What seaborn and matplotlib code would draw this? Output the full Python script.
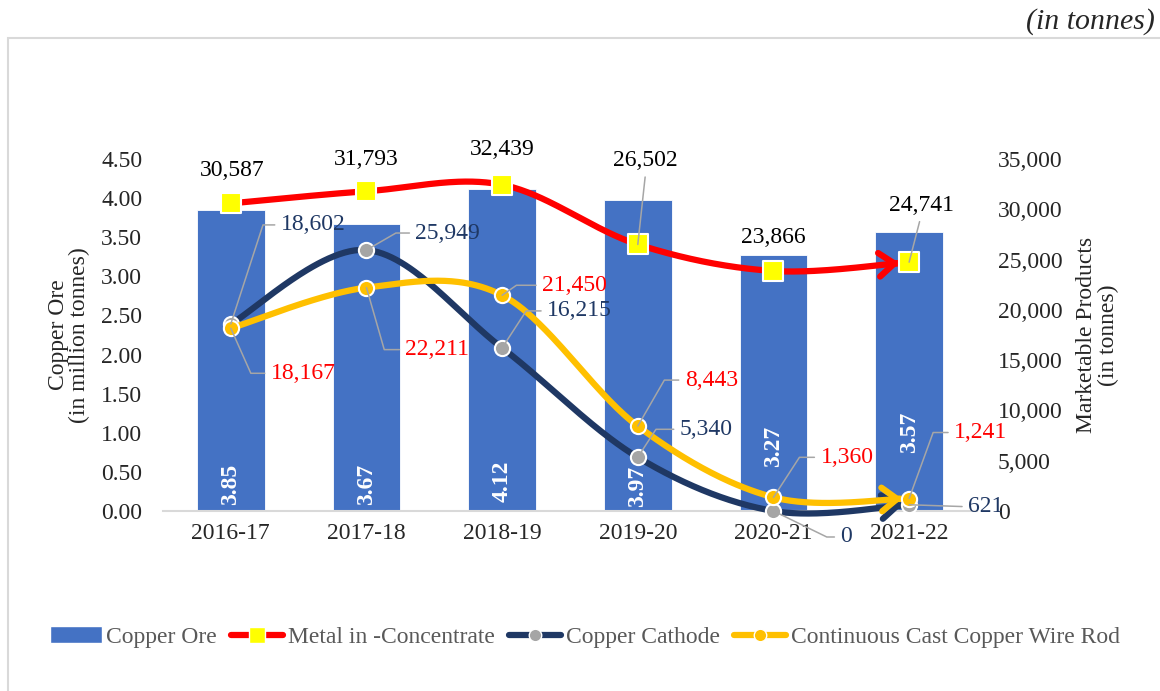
import numpy as np
import matplotlib
matplotlib.use('Agg')
import matplotlib.pyplot as plt
from matplotlib.patches import Patch, Rectangle
from matplotlib.lines import Line2D
from matplotlib.ticker import MultipleLocator, StrMethodFormatter
import seaborn as sns

# Data
years = ['2016-17', '2017-18', '2018-19', '2019-20', '2020-21', '2021-22']
copper_ore = [3.85, 3.67, 4.12, 3.97, 3.27, 3.57]              # million tonnes
metal_in_concentrate = [30587, 31793, 32439, 26502, 23866, 24741]  # tonnes
copper_cathode = [18602, 25949, 16215, 5340, 0, 621]
ccwr = [18167, 22211, 21450, 8443, 1360, 1241]

sns.set_style('white')
plt.rcParams['font.family'] = ['Liberation Serif', 'DejaVu Serif']

BLUE, RED, NAVY, GOLD = '#4472C4', '#FF0000', '#1F3864', '#FFC000'
LEADER = '#A6A6A6'
FS = 17


def smooth(vals, n=60):
    # Excel-like smoothed line (Catmull-Rom as cubic Bezier)
    p = np.column_stack([np.arange(len(vals), dtype=float), np.asarray(vals, float)])
    ext = np.vstack([p[0], p, p[-1]])
    t = np.linspace(0, 1, n)[:, None]
    out = []
    for i in range(len(p) - 1):
        p0, p1, p2, p3 = ext[i], ext[i + 1], ext[i + 2], ext[i + 3]
        c1 = p1 + (p2 - p0) / 6
        c2 = p2 - (p3 - p1) / 6
        seg = (1 - t) ** 3 * p1 + 3 * (1 - t) ** 2 * t * c1 + 3 * (1 - t) * t ** 2 * c2 + t ** 3 * p2
        out.append(seg if i == 0 else seg[1:])
    return np.vstack(out)


fig = plt.figure(figsize=(11.6, 6.91), dpi=100)
fig.add_artist(Rectangle((8 / 1160, -0.05), 1.0, 1 - 38 / 691 + 0.05, transform=fig.transFigure,
                         fill=False, edgecolor='#D9D9D9', lw=1.5))
fig.text(1155 / 1160, 1 - 22 / 691, '(in tonnes)', ha='right', va='center', style='italic', fontsize=21.5)

ax = fig.add_axes([0.1405, 0.2605, 0.7017, 0.5094])
sns.barplot(x=np.arange(len(years)), y=copper_ore, native_scale=True, orient='x', width=0.5,
            color=BLUE, saturation=1, errorbar=None, edgecolor='white', linewidth=0.6, ax=ax)
ax.set_xlim(-0.5, 5.5)
ax.set_ylim(0, 4.5)
ax.set_xticks(range(len(years)), labels=years)
ax.yaxis.set_major_locator(MultipleLocator(0.5))
ax.yaxis.set_major_formatter(StrMethodFormatter('{x:.2f}'))
ax.tick_params(length=0, labelsize=FS)
ax.tick_params(axis='y', pad=15)
ax.tick_params(axis='x', pad=9)
ax.set_xlabel('')
ax.set_ylabel('Copper Ore\n(in million tonnes)', fontsize=FS, labelpad=8, linespacing=1.0)
for s in ['top', 'right', 'left']:
    ax.spines[s].set_visible(False)
ax.spines['bottom'].set_color('#D9D9D9')
ax.spines['bottom'].set_linewidth(1.5)

# Bar value labels (white, rotated)
bar_offsets = [6, 6, 9, 4, 44, 58]
for bar, val, off in zip(ax.containers[0], copper_ore, bar_offsets):
    ax.annotate(f'{val:.2f}', xy=(bar.get_x() + bar.get_width() / 2, 0), xytext=(0, off),
                textcoords='offset pixels', rotation=90, ha='center', va='bottom',
                color='white', fontsize=FS, fontweight='bold')

ax2 = ax.twinx()
ax2.set_ylim(0, 35000)
ax2.yaxis.set_major_locator(MultipleLocator(5000))
ax2.yaxis.set_major_formatter(StrMethodFormatter('{x:,.0f}'))
ax2.tick_params(length=0, labelsize=FS, pad=15)
ax2.set_ylabel('Marketable Products\n(in tonnes)', fontsize=FS, labelpad=10, linespacing=1.0)
for s in ax2.spines.values():
    s.set_visible(False)

series = [
    (metal_in_concentrate, RED, 's', '#FFFF00', 210, 7),
    (copper_cathode, NAVY, 'o', '#A5A5A5', 120, 5),
    (ccwr, GOLD, 'o', GOLD, 120, 5),
]
z = 3
for vals, col, mk, mfc, ms, shrink in series:
    curve = smooth(vals)
    sns.lineplot(x=curve[:, 0], y=curve[:, 1], ax=ax2, color=col, lw=4.5, sort=False,
                 estimator=None, clip_on=False, legend=False, zorder=z)
    ax2.annotate('', xy=curve[-1], xytext=curve[-8],
                 arrowprops=dict(arrowstyle='->,head_length=1.1,head_width=0.85', color=col, lw=4.5,
                                 shrinkA=0, shrinkB=shrink, mutation_scale=10), zorder=z)
    sns.scatterplot(x=np.arange(len(vals)), y=vals, ax=ax2, marker=mk, s=ms, color=mfc,
                    edgecolor='white', linewidth=1.5, zorder=z + 0.5, clip_on=False, legend=False)
    z += 1


def label(i, val, text, color, dx, dy, ang=None, ha='left', relpos=(0, 0.5), leader=True):
    props = None
    if leader:
        cs = 'arc3' if ang is None else f'angle,angleA=0,angleB={ang},rad=0'
        props = dict(arrowstyle='-', color=LEADER, lw=1.1, relpos=relpos, shrinkA=2, shrinkB=0,
                     connectionstyle=cs)
    ax2.annotate(text, xy=(i, val), xytext=(dx, dy), textcoords='offset pixels', ha=ha, va='center',
                 color=color, fontsize=FS, arrowprops=props, zorder=8)


# Metal in concentrate labels (black, above)
metal_pos = [(1, 33, False), (0, 32, False), (0, 35, False), (8, 84, True), (0, 33, False), (12, 57, True)]
for i, (v, (dx, dy, ld)) in enumerate(zip(metal_in_concentrate, metal_pos)):
    label(i, v, f'{v:,}', 'black', dx, dy, ha='center', relpos=(0.5, 0), leader=ld)

cathode_pos = [(50, 99, 72), (49, 17, 30), (45, 37, 57), (42, 28, 57), (67, -26, -26), (59, -2, None)]
for i, (v, (dx, dy, ang)) in enumerate(zip(copper_cathode, cathode_pos)):
    label(i, v, f'{v:,}', NAVY, dx, dy, ang=ang)

ccwr_pos = [(40, -45, -66), (39, -62, -74), (40, 10, 35), (47, 46, 60), (47, 40, 57), (45, 66, 70)]
for i, (v, (dx, dy, ang)) in enumerate(zip(ccwr, ccwr_pos)):
    label(i, v, f'{v:,}', RED, dx, dy, ang=ang)

# Legend
handles = [
    Patch(facecolor=BLUE, label='Copper Ore'),
    Line2D([], [], color=RED, lw=4.5, marker='s', markersize=12, markerfacecolor='#FFFF00',
           markeredgecolor='white', label='Metal in -Concentrate'),
    Line2D([], [], color=NAVY, lw=4.5, marker='o', markersize=9, markerfacecolor='#A5A5A5',
           markeredgecolor='white', label='Copper Cathode'),
    Line2D([], [], color=GOLD, lw=4.5, marker='o', markersize=9, markerfacecolor=GOLD,
           markeredgecolor='white', label='Continuous Cast Copper Wire Rod'),
]
fig.legend(handles=handles, loc='center', bbox_to_anchor=(0.504, 0.078), ncol=4, frameon=False,
           fontsize=FS, handlelength=2.2, handletextpad=0.2, columnspacing=0.6, labelcolor='#595959')

fig.savefig('out.png', dpi=100)
